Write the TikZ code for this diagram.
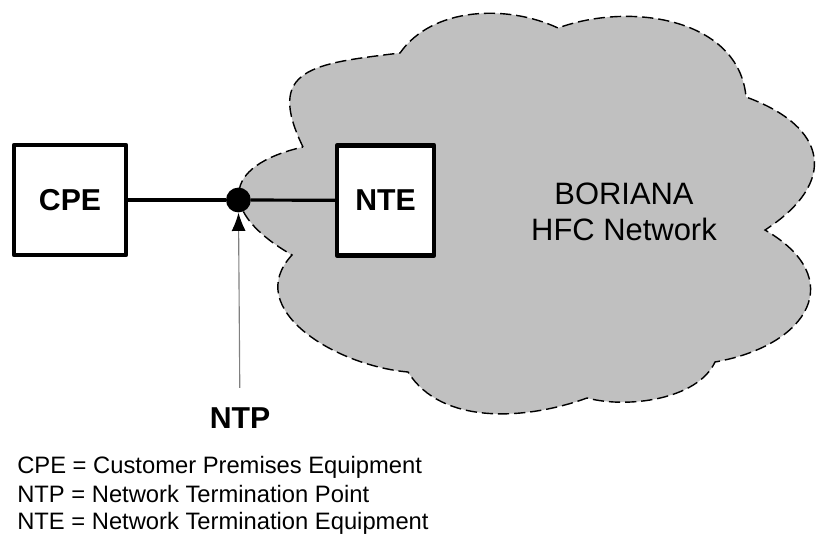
\documentclass[tikz,border=0pt]{standalone}
\usepackage{fontspec}
\setmainfont{Liberation Sans}
\usetikzlibrary{arrows.meta}
\definecolor{cloudgray}{RGB}{192,192,192}
\tikzset{
    block/.style = {
        draw,
        fill=white,
        shape=rectangle,
        minimum width=2.8cm,
        minimum height=2.75cm,
        line width=0.11cm,
        line join=round,
        font=\fontsize{21.5pt}{26pt}\selectfont\bfseries
    },
    junction/.style = {
        shape=circle,
        fill=black,
        inner sep=0pt,
        minimum size=0.62cm
    },
    wire/.style = {
        draw,
        line width=0.08cm
    },
    pointer/.style = {
        draw=gray,
        line width=0.8pt,
        -{Latex[length=13pt,width=10pt,color=black]}
    },
    cloud/.style = {
        draw,
        fill=cloudgray,
        line width=1pt,
        dash pattern=on 8pt off 3.5pt
    },
    keytext/.style = {
        anchor=base west,
        inner sep=0pt,
        font=\fontsize{16.9pt}{20pt}\selectfont
    },
}

\begin{document}
\begin{tikzpicture}
    \useasboundingbox (0,0) rectangle (20.45,13.35);

    % HFC network cloud
    \path[cloud] (7.575,9.675)
        to[out=116,in=187,looseness=1.66] (10,12.025)
        to[out=55,in=155,looseness=0.9] (13.95,12.65)
        to[out=20,in=95,looseness=1.0] (18.65,10.925)
        to[out=-20,in=33,looseness=1.67] (19.125,7.6)
        to[out=-30,in=10,looseness=1.74] (17.875,4.3)
        to[out=245,in=-15,looseness=0.8] (14.675,3.4)
        to[out=200,in=-58,looseness=0.9] (10.2,4.05)
        to[out=175,in=227,looseness=1.14] (7.3,6.975)
        to[out=150,in=193,looseness=2.0] (7.575,9.675) -- cycle;

    \node[block] (cpe) at (1.75,8.35) {CPE};
    \node[block, minimum width=2.43cm] (nte) at (9.64,8.34) {NTE};
    \node[junction] (ntp) at (5.96,8.35) {};
    \node[anchor=base, inner xsep=0pt, inner ysep=0.475cm,
        font=\fontsize{21.5pt}{26pt}\selectfont\bfseries] (ntpname) at (6.0,2.65) {NTP};
    \node[align=center, inner sep=0pt,
        font=\fontsize{22pt}{25.6pt}\selectfont] (hfc) at (15.6,8.06) {BORIANA\\HFC Network};

    \path[wire] (cpe) -- (ntp);
    \path[wire] (ntp) -- (nte);
    \path[pointer] (ntpname) -- (ntp);

    \node[keytext] (keycpe) at (0.425,1.525) {CPE = Customer Premises Equipment};
    \node[keytext] (keyntp) at (0.425,0.8) {NTP = Network Termination Point};
    \node[keytext] (keynte) at (0.425,0.125) {NTE = Network Termination Equipment};
\end{tikzpicture}
\end{document}
